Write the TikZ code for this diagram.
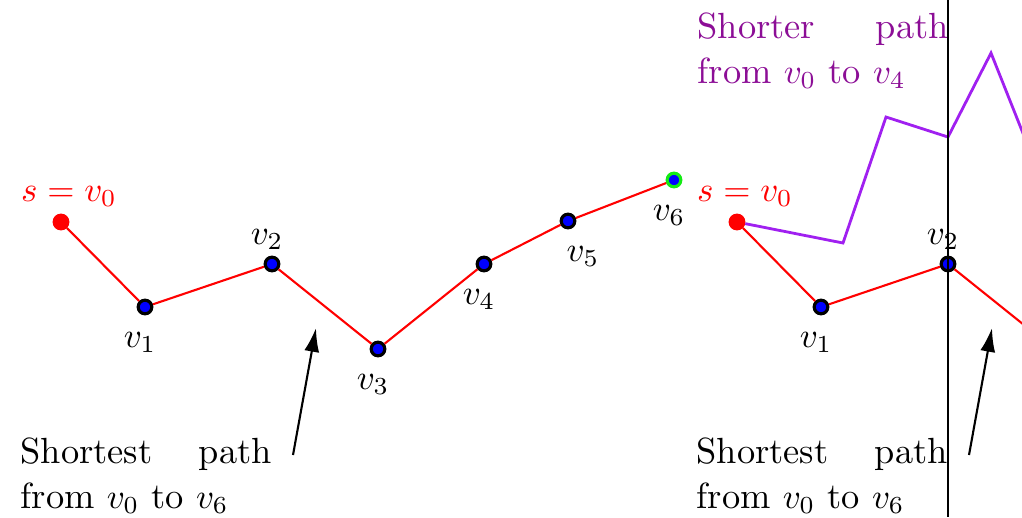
\documentclass[tikz,border=0pt]{standalone}
\usepackage{amsmath,amssymb}
\usepackage{xcolor}
\usepackage{tikz}
\usetikzlibrary{arrows.meta, positioning}
\definecolor{pathred}{RGB}{255, 0, 0}
\definecolor{vtxblue}{RGB}{0, 0, 255}
\definecolor{goalgreen}{RGB}{20, 235, 20}
\definecolor{shortline}{RGB}{160, 32, 240}
\definecolor{shorttext}{RGB}{140, 14, 150}

\begin{document}
\begin{tikzpicture}[
    x=0.2857pt, y=-0.2857pt,
    vtx/.style={circle, draw=black, line width=0.9pt, fill=vtxblue, minimum size=3.9pt, inner sep=0pt},
    src/.style={vtx, draw=pathred, fill=pathred},
    goal/.style={vtx, draw=goalgreen},
    vlbl/.style={inner sep=0pt, font=\fontsize{10.4pt}{12.5pt}\selectfont},
    srclbl/.style={vlbl, text=pathred},
    note/.style={anchor=north west, inner sep=0pt, text width=71.7pt, align=justify, font=\fontsize{10.4pt}{12.9pt}\selectfont},
    redpath/.style={pathred, semithick},
    altpath/.style={shortline, thick, line join=miter},
    pointer/.style={-{Latex[length=6.8pt,width=4.3pt]}, semithick}
]
\useasboundingbox (0,0) rectangle (1022,517);
\clip (0,0) rectangle (1022,517);

% Left: shortest path
\node[src] (s0) at (61,222) {};
\node[vtx] (v1) at (145,307) {};
\node[vtx] (v2) at (272,264) {};
\node[vtx] (v3) at (378,349) {};
\node[vtx] (v4) at (484,264) {};
\node[vtx] (v5) at (568,221) {};
\node[goal] (v6) at (674,180) {};

\draw[redpath] (s0) -- (v1) -- (v2) -- (v3) -- (v4) -- (v5) -- (v6);

\node[srclbl, above=1.8pt of s0, xshift=2.3pt] (ls0) {$s=v_0$};
\node[vlbl, below=4.6pt of v1, xshift=-1.4pt] (lv1) {$v_1$};
\node[vlbl, above=1.6pt of v2, xshift=-1.4pt] (lv2) {$v_2$};
\node[vlbl, below=4.6pt of v3, xshift=-1.4pt] (lv3) {$v_3$};
\node[vlbl, below=4.6pt of v4, xshift=-1.4pt] (lv4) {$v_4$};
\node[vlbl, below=4.6pt of v5, xshift=4.3pt] (lv5) {$v_5$};
\node[vlbl, below=4.6pt of v6, xshift=-1.4pt] (lv6) {$v_6$};

\node[note] (sp1) at (20,437) {Shortest path from $v_0$ to $v_6$};
\coordinate (a1) at (293,455);
\coordinate (b1) at (316,328);
\draw[pointer] (a1) -- (b1);

% Right: a shorter path to v4
\node[src] (t0) at (737,222) {};
\node[vtx] (w1) at (821,307) {};
\node[vtx] (w2) at (948,264) {};
\coordinate (w3) at (1054,349);

\coordinate (q1) at (843,243);
\coordinate (q2) at (886,117);
\coordinate (q3) at (948,137);
\coordinate (q4) at (991,53);
\coordinate (q5) at (1040,176);
\draw[altpath] (t0) -- (q1) -- (q2) -- (q3) -- (q4) -- (q5);

\draw[redpath] (t0) -- (w1) -- (w2) -- (w3);

\node[srclbl, above=1.8pt of t0, xshift=2.3pt] (lt0) {$s=v_0$};
\node[vlbl, below=4.6pt of w1, xshift=-1.4pt] (lw1) {$v_1$};
\node[vlbl, above=1.6pt of w2, xshift=-1.4pt] (lw2) {$v_2$};

\node[note, text=shorttext] (sh2) at (697,12) {Shorter path from $v_0$ to $v_4$};
\node[note] (sp2) at (696,437) {Shortest path from $v_0$ to $v_6$};
\coordinate (a2) at (969,455);
\coordinate (b2) at (992,328);
\draw[pointer] (a2) -- (b2);

% frame edge
\coordinate (cuttop) at (948,0);
\coordinate (cutbot) at (948,517);
\draw[black, line width=0.3pt] (cuttop) -- (cutbot);

\end{tikzpicture}
\end{document}
